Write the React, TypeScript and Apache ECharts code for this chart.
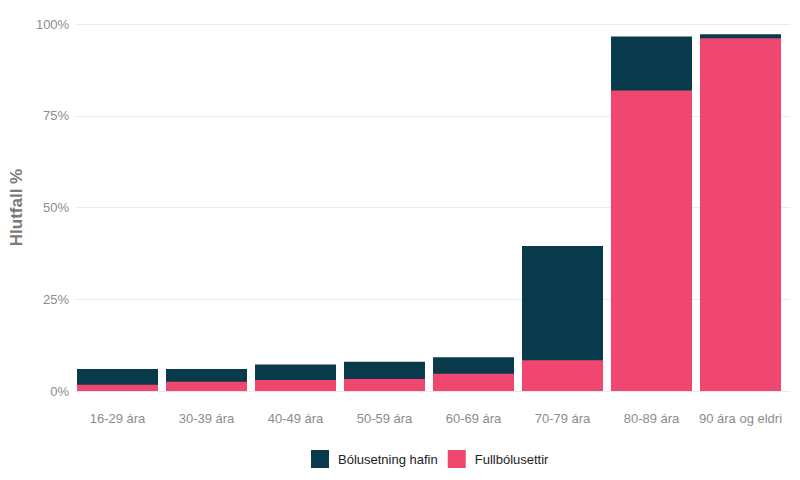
import React, { useEffect, useRef } from "react";
import * as echarts from "echarts";

const categories = ["16-29 ára", "30-39 ára", "40-49 ára", "50-59 ára", "60-69 ára", "70-79 ára", "80-89 ára", "90 ára og eldri"];
// Share (%) who have started vaccination (full bar height)
const hafin = [6.0, 6.0, 7.2, 8.0, 9.2, 39.5, 96.6, 97.2];
// Share (%) fully vaccinated
const full = [1.7, 2.5, 3.0, 3.3, 4.7, 8.4, 81.9, 96.1];
const yTicks = [0, 25, 50, 75, 100];

const FONT = "Liberation Sans, Arial, sans-serif";

export default function App() {
  const ref = useRef<HTMLDivElement>(null);
  useEffect(() => {
    if (!ref.current) return;
    const chart = echarts.init(ref.current, undefined, { renderer: "svg" });
    chart.setOption({
      animation: false,
      backgroundColor: "#ffffff",
      textStyle: { fontFamily: FONT },
      grid: [
        { left: 73, right: 15, top: 24, bottom: 89 },
        { left: 64, right: 10, top: 24, bottom: 89 },
      ],
      legend: {
        left: 306,
        top: 445,
        itemWidth: 18,
        itemHeight: 18,
        itemGap: 10,
        icon: "rect",
        data: ["Bólusetning hafin", "Fullbólusettir"],
        textStyle: { fontFamily: FONT, fontSize: 13, color: "#222222", padding: [0, 0, 0, 4] },
      },
      xAxis: [
        {
          type: "category",
          gridIndex: 0,
          data: categories,
          axisLine: { show: false },
          axisTick: { show: false },
          axisLabel: { color: "#8c8c8c", fontSize: 13, margin: 21, fontFamily: FONT, interval: 0 },
        },
        { type: "value", gridIndex: 1, min: 0, max: 1, show: false },
      ],
      yAxis: [
        { type: "value", gridIndex: 0, min: 0, max: 100, interval: 25, show: false },
        {
          type: "value",
          gridIndex: 1,
          min: yTicks[0],
          max: yTicks[yTicks.length - 1],
          interval: 25,
          name: "Hlutfall %",
          nameLocation: "middle",
          nameGap: 50,
          nameTextStyle: { color: "#7a7a7a", fontSize: 17, fontWeight: "bold", fontFamily: FONT },
          axisLine: { show: false },
          axisTick: { show: false },
          axisLabel: { color: "#8c8c8c", fontSize: 13, margin: 6, fontFamily: FONT, formatter: (v: number) => v + "%" },
          splitLine: { lineStyle: { color: "#ebebeb", width: 1 } },
        },
      ],
      series: [
        {
          name: "Bólusetning hafin",
          type: "bar",
          xAxisIndex: 0,
          yAxisIndex: 0,
          data: hafin,
          barWidth: "91%",
          barGap: "-100%",
          itemStyle: { color: "#093A4B" },
        },
        {
          name: "Fullbólusettir",
          type: "bar",
          xAxisIndex: 0,
          yAxisIndex: 0,
          data: full,
          barWidth: "91%",
          barGap: "-100%",
          itemStyle: { color: "#EF4770" },
        },
      ],
    });
    return () => chart.dispose();
  }, []);
  return <div ref={ref} style={{ width: 800, height: 480, position: "absolute", left: 0, top: 0 }} />;
}
